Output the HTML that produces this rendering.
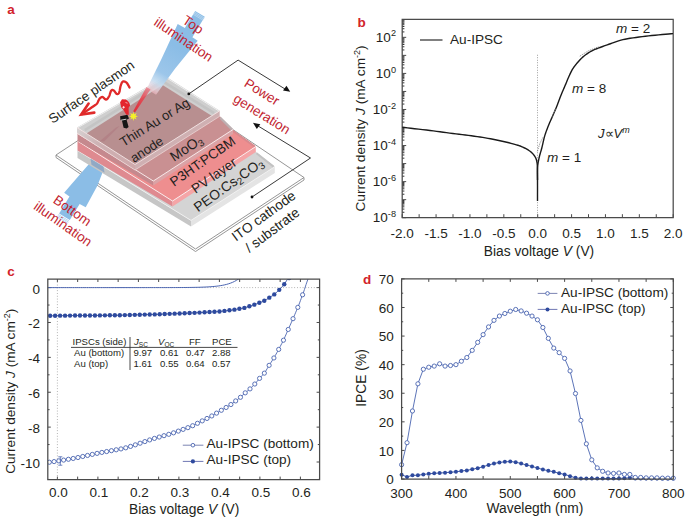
<!DOCTYPE html>
<html><head><meta charset="utf-8"><style>
html,body{margin:0;padding:0;background:#fff;}
svg{display:block;}
text{font-family:"Liberation Sans", sans-serif;}
</style></head><body>
<svg width="685" height="519" viewBox="0 0 685 519">
<rect width="685" height="519" fill="#fff"/>
<polygon points="56,155 56,157.5 195.5,251.5 304,180 304,177.5 164.5,83.5" fill="#fff" stroke="#8a8a8a" stroke-width="0.9" />
<polyline points="56,155 195.5,249 304,177.5" fill="none" stroke="#8a8a8a" stroke-width="0.9" />
<polygon points="59.14,213.46 69.49,196.59 64.16,192.85 70.57,185.29 90.52,162.34 97.03,154.61 107.68,161.14 103.82,169.33 97.49,185.39 85.71,207.25 79.62,203.98 69.79,220" fill="#8bbde6" stroke="none" stroke-width="1" />
<line x1="58.51" y1="214.48" x2="69.16" y2="221.02" stroke="#9cc6ea" stroke-width="0.7" />
<line x1="57.83" y1="215.59" x2="68.48" y2="222.13" stroke="#9cc6ea" stroke-width="0.7" />
<line x1="57.15" y1="216.7" x2="67.8" y2="223.24" stroke="#9cc6ea" stroke-width="0.7" />
<polygon points="77.5,150.5 191,220.4 191,226.6 77.5,158" fill="#c6c6c6" stroke="none" stroke-width="1" /><polygon points="191,220.4 274.8,166.7 274.8,172.9 191,226.6" fill="#e4e4e4" stroke="none" stroke-width="1" /><polygon points="77.5,150.5 173.4,87.7 255.8,151.8 274.8,166.7 191,220.4" fill="#d4d4d4" stroke="none" stroke-width="1" /><polyline points="256.5,153.2 273.5,166.6" fill="none" stroke="#c2c2c2" stroke-width="2" /><polyline points="77.5,150.5 191,220.4 274.8,166.7" fill="none" stroke="#f4f4f4" stroke-width="0.8" />
<polygon points="90.5,158.4 103.5,166.6 104.5,172.8 91.5,164.8" fill="#7f9fc4" stroke="none" stroke-width="1" opacity="0.75"/>
<polygon points="77.5,141 172.5,201 172.5,206.5 77.5,150.5" fill="#df8a90" stroke="none" stroke-width="1" /><polygon points="172.5,201 255.8,146.5 255.8,152 172.5,206.5" fill="#f5a5a7" stroke="none" stroke-width="1" /><polygon points="77.5,141 166.8,82.1 255.8,146.5 172.5,201" fill="#ee8e8f" stroke="none" stroke-width="1" /><polyline points="226,126 254.8,146.6" fill="none" stroke="#d98a8e" stroke-width="2" /><polyline points="77.5,141 172.5,201 255.8,146.5" fill="none" stroke="#fff" stroke-width="0.8" />
<polygon points="77.5,133.5 153.3,181 153.3,185.5 77.5,141" fill="#c5898e" stroke="none" stroke-width="1" /><polygon points="153.3,181 233,129.5 233,134 153.3,185.5" fill="#dba3a6" stroke="none" stroke-width="1" /><polygon points="77.5,133.5 165,78.5 219.7,116.3 233,129.5 153.3,181" fill="#c99092" stroke="none" stroke-width="1" /><polyline points="220.2,117.8 232.2,129.6" fill="none" stroke="#bdb0b2" stroke-width="2.2" /><polyline points="77.5,133.5 153.3,181 233,129.5" fill="none" stroke="#fff" stroke-width="0.8" />
<polygon points="77,127.5 135,164.5 135,170 77,133" fill="url(#auf)" stroke="none" stroke-width="1" />
<defs><linearGradient id="auf" gradientUnits="userSpaceOnUse" x1="77" y1="130" x2="135" y2="167"><stop offset="0" stop-color="#d6d2d2"/><stop offset="0.35" stop-color="#cdb2b4"/><stop offset="1" stop-color="#cfa9ab"/></linearGradient></defs>
<polygon points="135,164.5 219.7,110.8 219.7,116.3 135,170" fill="#cfb0b2" stroke="none" stroke-width="1" />
<polygon points="77,127.5 165.5,76.3 219.7,110.8 135,164.5" fill="#cfcfcf" stroke="none" stroke-width="1" />
<polygon points="86.4,133.6 162.5,85 211.6,115.7 135,164.5" fill="#b88f90" stroke="none" stroke-width="1" />
<polygon points="116,127.5 119.5,126 104,141.5 100,141" fill="#a86a76" stroke="none" stroke-width="1" opacity="0.35"/>
<polyline points="84.9,130.1 162.8,81.4 214.1,113.2" fill="none" stroke="#c4c4c4" stroke-width="2.6" />
<polyline points="77.8,127.7 165.5,77.2 218.9,111" fill="none" stroke="#efefef" stroke-width="1.0" />
<polyline points="77,127.5 135,164.5 219.7,110.8" fill="none" stroke="#f4e4e4" stroke-width="0.9" />
<polyline points="77,133 135,170 219.7,116.3" fill="none" stroke="#f0dcdc" stroke-width="0.7" />
<defs><linearGradient id="tbg" gradientUnits="userSpaceOnUse" x1="178" y1="48" x2="150" y2="94"><stop offset="0" stop-color="#8bbde6"/><stop offset="0.55" stop-color="#9cc6ea"/><stop offset="0.75" stop-color="#c4dcf0" stop-opacity="0.9"/><stop offset="0.9" stop-color="#eed0d8" stop-opacity="0.7"/><stop offset="1" stop-color="#f0a0aa" stop-opacity="0.6"/></linearGradient></defs>
<polygon points="195.21,10.9 184.87,28.02 177.69,24.04 160.85,60.25 146.62,89.04 156.03,94.72 174.97,68.78 197.71,40.8 192.39,37.24 204.79,16.7" fill="url(#tbg)" stroke="none" stroke-width="1" />
<line x1="194.43" y1="12.01" x2="204.53" y2="18.11" stroke="#cfe2f4" stroke-width="0.6" />
<line x1="193.76" y1="13.12" x2="203.86" y2="19.22" stroke="#cfe2f4" stroke-width="0.6" />
<line x1="193.09" y1="14.23" x2="203.19" y2="20.33" stroke="#cfe2f4" stroke-width="0.6" />
<defs><linearGradient id="lz" gradientUnits="userSpaceOnUse" x1="149" y1="86" x2="134" y2="113"><stop offset="0" stop-color="#f06070" stop-opacity="0.5"/><stop offset="0.4" stop-color="#e84450" stop-opacity="0.85"/><stop offset="1" stop-color="#e02a36"/></linearGradient></defs>
<polygon points="146.5,87 150.5,89.5 135,112.5 133.2,111.3" fill="url(#lz)" stroke="none" stroke-width="1" />
<polygon points="138,116.3 135.43,117.14 136.65,119.55 134.24,118.33 133.4,120.9 132.56,118.33 130.15,119.55 131.37,117.14 128.8,116.3 131.37,115.46 130.15,113.05 132.56,114.27 133.4,111.7 134.24,114.27 136.65,113.05 135.43,115.46" fill="#f4f02a" stroke="none" stroke-width="1" />
<path d="M120.1,116.2 L127.4,114.7 L129,118.5 L126.6,119.7 L128.6,127 L126.6,128.5 L123.6,127.8 L122,120.8 L120.5,120 Z" fill="#161616"/>
<path d="M121,120.2 L126.3,119.2" stroke="#e0e0e0" stroke-width="0.9"/>
<path d="M120.1,102.3 L122,99.3 L125.9,99.6 C128,101 129.5,102.5 130.1,105.4 L128.6,107.7 L128.8,114.7 L126.3,114.7 C125,112.5 124,111 123.6,110 C122.2,108.5 121,107.5 120.9,106.2 Z" fill="#e3262e"/>
<path d="M122.4,107.3 L124.8,107.3 M123.6,106.1 L123.6,108.5" stroke="#fff" stroke-width="0.8"/>
<path d="M125.5,102.5 L127.6,103.2" stroke="#fff" stroke-width="0.6"/>
<polyline points="129.5,87.5 129.18,86.92 128.75,86.09 128.23,85.11 127.66,84.13 127.08,83.25 126.5,82.6 125.91,82.15 125.26,81.78 124.6,81.52 123.95,81.39 123.34,81.41 122.8,81.6 122.34,82 121.93,82.59 121.56,83.33 121.22,84.18 120.9,85.08 120.6,86 120.33,87.02 120.11,88.2 119.91,89.43 119.71,90.63 119.48,91.68 119.2,92.5 118.86,93.1 118.5,93.56 118.1,93.88 117.68,94.06 117.25,94.1 116.8,94 116.33,93.66 115.83,93.07 115.31,92.34 114.79,91.59 114.28,90.93 113.8,90.5 113.34,90.24 112.89,90.05 112.45,89.96 112.02,90 111.61,90.21 111.2,90.6 110.82,91.28 110.47,92.24 110.12,93.36 109.78,94.53 109.41,95.61 109,96.5 108.55,97.24 108.08,97.95 107.58,98.58 107.07,99.09 106.54,99.45 106,99.6 105.44,99.45 104.85,98.99 104.25,98.38 103.65,97.75 103.06,97.24 102.5,97 101.97,97.01 101.44,97.17 100.94,97.44 100.44,97.82 99.97,98.28 99.5,98.8 99.07,99.44 98.67,100.23 98.28,101.09 97.89,101.97 97.47,102.8 97,103.5 96.57,104.01 96.2,104.36 95.81,104.66 95.3,105 94.56,105.48 93.5,106.2 91.91,107.3 89.83,108.71 87.53,110.27 85.28,111.79 83.34,113.09 82,114" fill="none" stroke="#e02a2a" stroke-width="2.3" stroke-linecap="round" stroke-linejoin="round"/>
<polyline points="88.6,103.6 81.2,114.6 94.3,112.6" fill="none" stroke="#e02a2a" stroke-width="2.6" stroke-linecap="round" stroke-linejoin="miter"/>
<polyline points="188.8,93.9 238.1,60.1 286,89.6" fill="none" stroke="#222" stroke-width="0.9" />
<polygon points="290.2,91.8 283,90.5 286.5,85.8" fill="#111" stroke="none" stroke-width="1" />
<circle cx="188.8" cy="93.9" r="1.4" fill="#111"/>
<polyline points="252,197 310.5,158 256.5,125" fill="none" stroke="#222" stroke-width="0.9" />
<polygon points="253,122.8 260.3,124.3 256.8,129" fill="#111" stroke="none" stroke-width="1" />
<circle cx="252" cy="197" r="1.4" fill="#111"/>
<text x="0" y="0" font-size="13.4" text-anchor="start" fill="#231f20" transform="translate(52.5,124) rotate(-34.3)" >Surface plasmon</text>
<text x="0" y="0" font-size="13.5" text-anchor="start" fill="#c21f32" transform="translate(181.5,22.5) rotate(34)" >Top</text>
<text x="0" y="0" font-size="13.5" text-anchor="start" fill="#c21f32" transform="translate(153,24.5) rotate(34)" >illumination</text>
<text x="0" y="0" font-size="13.5" text-anchor="start" fill="#c21f32" transform="translate(243.3,85.7) rotate(32)" >Power</text>
<text x="0" y="0" font-size="13.5" text-anchor="start" fill="#c21f32" transform="translate(232.5,101) rotate(32)" >generation</text>
<text x="0" y="0" font-size="13.2" text-anchor="start" fill="#231f20" transform="translate(123.5,147) rotate(-32)" >Thin Au or Ag</text>
<text x="0" y="0" font-size="13" text-anchor="start" fill="#231f20" transform="translate(134,163) rotate(-33)" >anode</text>
<text x="0" y="0" font-size="14" text-anchor="start" fill="#231f20" transform="translate(174,162) rotate(-33.5)" >MoO<tspan font-size="9.5" dy="2.5">3</tspan></text>
<text x="0" y="0" font-size="13.6" text-anchor="start" fill="#231f20" transform="translate(174,187) rotate(-35)" >P3HT:PCBM</text>
<text x="0" y="0" font-size="13.6" text-anchor="start" fill="#231f20" transform="translate(195.5,194) rotate(-35)" >PV layer</text>
<text x="0" y="0" font-size="13.8" text-anchor="start" fill="#231f20" transform="translate(198,212.5) rotate(-35.5)" >PEO:Cs<tspan font-size="10" dy="2.5">2</tspan><tspan dy="-2.5">CO</tspan><tspan font-size="10" dy="2.5">3</tspan></text>
<text x="0" y="0" font-size="13.7" text-anchor="start" fill="#231f20" transform="translate(236,241.8) rotate(-36)" >ITO cathode</text>
<text x="0" y="0" font-size="13.7" text-anchor="start" fill="#231f20" transform="translate(249.5,253) rotate(-37)" >/ substrate</text>
<text x="0" y="0" font-size="13.5" text-anchor="start" fill="#c21f32" transform="translate(52.3,202.1) rotate(35)" >Bottom</text>
<text x="0" y="0" font-size="13.5" text-anchor="start" fill="#c21f32" transform="translate(32.7,208.4) rotate(35)" >illumination</text>
<text x="7.2" y="14.4" font-size="13.5" text-anchor="start" fill="#d2232a" font-weight="bold" >a</text>
<text x="357.5" y="26.6" font-size="13.5" text-anchor="start" fill="#d2232a" font-weight="bold" >b</text>
<text x="7.2" y="275.5" font-size="13.5" text-anchor="start" fill="#d2232a" font-weight="bold" >c</text>
<text x="363" y="284" font-size="13.5" text-anchor="start" fill="#d2232a" font-weight="bold" >d</text>
<line x1="402.2" y1="217.7" x2="402.2" y2="214.2" stroke="#4a4a4a" stroke-width="1" />
<line x1="419.14" y1="217.7" x2="419.14" y2="214.2" stroke="#4a4a4a" stroke-width="1" />
<line x1="436.07" y1="217.7" x2="436.07" y2="214.2" stroke="#4a4a4a" stroke-width="1" />
<line x1="453.01" y1="217.7" x2="453.01" y2="214.2" stroke="#4a4a4a" stroke-width="1" />
<line x1="469.95" y1="217.7" x2="469.95" y2="214.2" stroke="#4a4a4a" stroke-width="1" />
<line x1="486.89" y1="217.7" x2="486.89" y2="214.2" stroke="#4a4a4a" stroke-width="1" />
<line x1="503.83" y1="217.7" x2="503.83" y2="214.2" stroke="#4a4a4a" stroke-width="1" />
<line x1="520.76" y1="217.7" x2="520.76" y2="214.2" stroke="#4a4a4a" stroke-width="1" />
<line x1="537.7" y1="217.7" x2="537.7" y2="214.2" stroke="#4a4a4a" stroke-width="1" />
<line x1="554.64" y1="217.7" x2="554.64" y2="214.2" stroke="#4a4a4a" stroke-width="1" />
<line x1="571.58" y1="217.7" x2="571.58" y2="214.2" stroke="#4a4a4a" stroke-width="1" />
<line x1="588.51" y1="217.7" x2="588.51" y2="214.2" stroke="#4a4a4a" stroke-width="1" />
<line x1="605.45" y1="217.7" x2="605.45" y2="214.2" stroke="#4a4a4a" stroke-width="1" />
<line x1="622.39" y1="217.7" x2="622.39" y2="214.2" stroke="#4a4a4a" stroke-width="1" />
<line x1="639.33" y1="217.7" x2="639.33" y2="214.2" stroke="#4a4a4a" stroke-width="1" />
<line x1="656.26" y1="217.7" x2="656.26" y2="214.2" stroke="#4a4a4a" stroke-width="1" />
<line x1="673.2" y1="217.7" x2="673.2" y2="214.2" stroke="#4a4a4a" stroke-width="1" />
<line x1="402.2" y1="217.7" x2="406.2" y2="217.7" stroke="#4a4a4a" stroke-width="1" />
<line x1="402.2" y1="212.27" x2="404.4" y2="212.27" stroke="#333" stroke-width="1" />
<line x1="402.2" y1="209.09" x2="404.4" y2="209.09" stroke="#333" stroke-width="1" />
<line x1="402.2" y1="206.84" x2="404.4" y2="206.84" stroke="#333" stroke-width="1" />
<line x1="402.2" y1="205.09" x2="404.4" y2="205.09" stroke="#333" stroke-width="1" />
<line x1="402.2" y1="203.66" x2="404.4" y2="203.66" stroke="#333" stroke-width="1" />
<line x1="402.2" y1="202.46" x2="404.4" y2="202.46" stroke="#333" stroke-width="1" />
<line x1="402.2" y1="201.41" x2="404.4" y2="201.41" stroke="#333" stroke-width="1" />
<line x1="402.2" y1="200.49" x2="404.4" y2="200.49" stroke="#333" stroke-width="1" />
<line x1="402.2" y1="199.66" x2="406.2" y2="199.66" stroke="#4a4a4a" stroke-width="1" />
<line x1="402.2" y1="194.23" x2="404.4" y2="194.23" stroke="#333" stroke-width="1" />
<line x1="402.2" y1="191.06" x2="404.4" y2="191.06" stroke="#333" stroke-width="1" />
<line x1="402.2" y1="188.8" x2="404.4" y2="188.8" stroke="#333" stroke-width="1" />
<line x1="402.2" y1="187.06" x2="404.4" y2="187.06" stroke="#333" stroke-width="1" />
<line x1="402.2" y1="185.63" x2="404.4" y2="185.63" stroke="#333" stroke-width="1" />
<line x1="402.2" y1="184.42" x2="404.4" y2="184.42" stroke="#333" stroke-width="1" />
<line x1="402.2" y1="183.38" x2="404.4" y2="183.38" stroke="#333" stroke-width="1" />
<line x1="402.2" y1="182.45" x2="404.4" y2="182.45" stroke="#333" stroke-width="1" />
<line x1="402.2" y1="181.63" x2="406.2" y2="181.63" stroke="#4a4a4a" stroke-width="1" />
<line x1="402.2" y1="176.2" x2="404.4" y2="176.2" stroke="#333" stroke-width="1" />
<line x1="402.2" y1="173.02" x2="404.4" y2="173.02" stroke="#333" stroke-width="1" />
<line x1="402.2" y1="170.77" x2="404.4" y2="170.77" stroke="#333" stroke-width="1" />
<line x1="402.2" y1="169.02" x2="404.4" y2="169.02" stroke="#333" stroke-width="1" />
<line x1="402.2" y1="167.59" x2="404.4" y2="167.59" stroke="#333" stroke-width="1" />
<line x1="402.2" y1="166.38" x2="404.4" y2="166.38" stroke="#333" stroke-width="1" />
<line x1="402.2" y1="165.34" x2="404.4" y2="165.34" stroke="#333" stroke-width="1" />
<line x1="402.2" y1="164.42" x2="404.4" y2="164.42" stroke="#333" stroke-width="1" />
<line x1="402.2" y1="163.59" x2="406.2" y2="163.59" stroke="#4a4a4a" stroke-width="1" />
<line x1="402.2" y1="158.16" x2="404.4" y2="158.16" stroke="#333" stroke-width="1" />
<line x1="402.2" y1="154.99" x2="404.4" y2="154.99" stroke="#333" stroke-width="1" />
<line x1="402.2" y1="152.73" x2="404.4" y2="152.73" stroke="#333" stroke-width="1" />
<line x1="402.2" y1="150.98" x2="404.4" y2="150.98" stroke="#333" stroke-width="1" />
<line x1="402.2" y1="149.56" x2="404.4" y2="149.56" stroke="#333" stroke-width="1" />
<line x1="402.2" y1="148.35" x2="404.4" y2="148.35" stroke="#333" stroke-width="1" />
<line x1="402.2" y1="147.3" x2="404.4" y2="147.3" stroke="#333" stroke-width="1" />
<line x1="402.2" y1="146.38" x2="404.4" y2="146.38" stroke="#333" stroke-width="1" />
<line x1="402.2" y1="145.55" x2="406.2" y2="145.55" stroke="#4a4a4a" stroke-width="1" />
<line x1="402.2" y1="140.13" x2="404.4" y2="140.13" stroke="#333" stroke-width="1" />
<line x1="402.2" y1="136.95" x2="404.4" y2="136.95" stroke="#333" stroke-width="1" />
<line x1="402.2" y1="134.7" x2="404.4" y2="134.7" stroke="#333" stroke-width="1" />
<line x1="402.2" y1="132.95" x2="404.4" y2="132.95" stroke="#333" stroke-width="1" />
<line x1="402.2" y1="131.52" x2="404.4" y2="131.52" stroke="#333" stroke-width="1" />
<line x1="402.2" y1="130.31" x2="404.4" y2="130.31" stroke="#333" stroke-width="1" />
<line x1="402.2" y1="129.27" x2="404.4" y2="129.27" stroke="#333" stroke-width="1" />
<line x1="402.2" y1="128.34" x2="404.4" y2="128.34" stroke="#333" stroke-width="1" />
<line x1="402.2" y1="127.52" x2="406.2" y2="127.52" stroke="#4a4a4a" stroke-width="1" />
<line x1="402.2" y1="122.09" x2="404.4" y2="122.09" stroke="#333" stroke-width="1" />
<line x1="402.2" y1="118.91" x2="404.4" y2="118.91" stroke="#333" stroke-width="1" />
<line x1="402.2" y1="116.66" x2="404.4" y2="116.66" stroke="#333" stroke-width="1" />
<line x1="402.2" y1="114.91" x2="404.4" y2="114.91" stroke="#333" stroke-width="1" />
<line x1="402.2" y1="113.48" x2="404.4" y2="113.48" stroke="#333" stroke-width="1" />
<line x1="402.2" y1="112.28" x2="404.4" y2="112.28" stroke="#333" stroke-width="1" />
<line x1="402.2" y1="111.23" x2="404.4" y2="111.23" stroke="#333" stroke-width="1" />
<line x1="402.2" y1="110.31" x2="404.4" y2="110.31" stroke="#333" stroke-width="1" />
<line x1="402.2" y1="109.48" x2="406.2" y2="109.48" stroke="#4a4a4a" stroke-width="1" />
<line x1="402.2" y1="104.05" x2="404.4" y2="104.05" stroke="#333" stroke-width="1" />
<line x1="402.2" y1="100.88" x2="404.4" y2="100.88" stroke="#333" stroke-width="1" />
<line x1="402.2" y1="98.62" x2="404.4" y2="98.62" stroke="#333" stroke-width="1" />
<line x1="402.2" y1="96.87" x2="404.4" y2="96.87" stroke="#333" stroke-width="1" />
<line x1="402.2" y1="95.45" x2="404.4" y2="95.45" stroke="#333" stroke-width="1" />
<line x1="402.2" y1="94.24" x2="404.4" y2="94.24" stroke="#333" stroke-width="1" />
<line x1="402.2" y1="93.19" x2="404.4" y2="93.19" stroke="#333" stroke-width="1" />
<line x1="402.2" y1="92.27" x2="404.4" y2="92.27" stroke="#333" stroke-width="1" />
<line x1="402.2" y1="91.45" x2="406.2" y2="91.45" stroke="#4a4a4a" stroke-width="1" />
<line x1="402.2" y1="86.02" x2="404.4" y2="86.02" stroke="#333" stroke-width="1" />
<line x1="402.2" y1="82.84" x2="404.4" y2="82.84" stroke="#333" stroke-width="1" />
<line x1="402.2" y1="80.59" x2="404.4" y2="80.59" stroke="#333" stroke-width="1" />
<line x1="402.2" y1="78.84" x2="404.4" y2="78.84" stroke="#333" stroke-width="1" />
<line x1="402.2" y1="77.41" x2="404.4" y2="77.41" stroke="#333" stroke-width="1" />
<line x1="402.2" y1="76.2" x2="404.4" y2="76.2" stroke="#333" stroke-width="1" />
<line x1="402.2" y1="75.16" x2="404.4" y2="75.16" stroke="#333" stroke-width="1" />
<line x1="402.2" y1="74.23" x2="404.4" y2="74.23" stroke="#333" stroke-width="1" />
<line x1="402.2" y1="73.41" x2="406.2" y2="73.41" stroke="#4a4a4a" stroke-width="1" />
<line x1="402.2" y1="67.98" x2="404.4" y2="67.98" stroke="#333" stroke-width="1" />
<line x1="402.2" y1="64.8" x2="404.4" y2="64.8" stroke="#333" stroke-width="1" />
<line x1="402.2" y1="62.55" x2="404.4" y2="62.55" stroke="#333" stroke-width="1" />
<line x1="402.2" y1="60.8" x2="404.4" y2="60.8" stroke="#333" stroke-width="1" />
<line x1="402.2" y1="59.37" x2="404.4" y2="59.37" stroke="#333" stroke-width="1" />
<line x1="402.2" y1="58.17" x2="404.4" y2="58.17" stroke="#333" stroke-width="1" />
<line x1="402.2" y1="57.12" x2="404.4" y2="57.12" stroke="#333" stroke-width="1" />
<line x1="402.2" y1="56.2" x2="404.4" y2="56.2" stroke="#333" stroke-width="1" />
<line x1="402.2" y1="55.37" x2="406.2" y2="55.37" stroke="#4a4a4a" stroke-width="1" />
<line x1="402.2" y1="49.94" x2="404.4" y2="49.94" stroke="#333" stroke-width="1" />
<line x1="402.2" y1="46.77" x2="404.4" y2="46.77" stroke="#333" stroke-width="1" />
<line x1="402.2" y1="44.51" x2="404.4" y2="44.51" stroke="#333" stroke-width="1" />
<line x1="402.2" y1="42.77" x2="404.4" y2="42.77" stroke="#333" stroke-width="1" />
<line x1="402.2" y1="41.34" x2="404.4" y2="41.34" stroke="#333" stroke-width="1" />
<line x1="402.2" y1="40.13" x2="404.4" y2="40.13" stroke="#333" stroke-width="1" />
<line x1="402.2" y1="39.08" x2="404.4" y2="39.08" stroke="#333" stroke-width="1" />
<line x1="402.2" y1="38.16" x2="404.4" y2="38.16" stroke="#333" stroke-width="1" />
<line x1="402.2" y1="37.34" x2="406.2" y2="37.34" stroke="#4a4a4a" stroke-width="1" />
<line x1="402.2" y1="31.91" x2="404.4" y2="31.91" stroke="#333" stroke-width="1" />
<line x1="402.2" y1="28.73" x2="404.4" y2="28.73" stroke="#333" stroke-width="1" />
<line x1="402.2" y1="26.48" x2="404.4" y2="26.48" stroke="#333" stroke-width="1" />
<line x1="402.2" y1="24.73" x2="404.4" y2="24.73" stroke="#333" stroke-width="1" />
<line x1="402.2" y1="23.3" x2="404.4" y2="23.3" stroke="#333" stroke-width="1" />
<line x1="402.2" y1="22.09" x2="404.4" y2="22.09" stroke="#333" stroke-width="1" />
<line x1="402.2" y1="21.05" x2="404.4" y2="21.05" stroke="#333" stroke-width="1" />
<line x1="402.2" y1="20.13" x2="404.4" y2="20.13" stroke="#333" stroke-width="1" />
<polygon points="402.2,19.3 673.2,19.3 673.2,217.7 402.2,217.7" fill="none" stroke="#4a4a4a" stroke-width="1.25" />
<text x="402.2" y="238" font-size="13.5" text-anchor="middle" fill="#231f20" >-2.0</text>
<text x="436.07" y="238" font-size="13.5" text-anchor="middle" fill="#231f20" >-1.5</text>
<text x="469.95" y="238" font-size="13.5" text-anchor="middle" fill="#231f20" >-1.0</text>
<text x="503.83" y="238" font-size="13.5" text-anchor="middle" fill="#231f20" >-0.5</text>
<text x="537.7" y="238" font-size="13.5" text-anchor="middle" fill="#231f20" >0.0</text>
<text x="571.58" y="238" font-size="13.5" text-anchor="middle" fill="#231f20" >0.5</text>
<text x="605.45" y="238" font-size="13.5" text-anchor="middle" fill="#231f20" >1.0</text>
<text x="639.33" y="238" font-size="13.5" text-anchor="middle" fill="#231f20" >1.5</text>
<text x="673.2" y="238" font-size="13.5" text-anchor="middle" fill="#231f20" >2.0</text>
<text x="396" y="41.94" font-size="13.5" text-anchor="end" fill="#231f20">10<tspan font-size="9.2" dy="-5.5">2</tspan></text>
<text x="396" y="78.01" font-size="13.5" text-anchor="end" fill="#231f20">10<tspan font-size="9.2" dy="-5.5">0</tspan></text>
<text x="396" y="114.08" font-size="13.5" text-anchor="end" fill="#231f20">10<tspan font-size="9.2" dy="-5.5">-2</tspan></text>
<text x="396" y="150.15" font-size="13.5" text-anchor="end" fill="#231f20">10<tspan font-size="9.2" dy="-5.5">-4</tspan></text>
<text x="396" y="186.23" font-size="13.5" text-anchor="end" fill="#231f20">10<tspan font-size="9.2" dy="-5.5">-6</tspan></text>
<text x="396" y="222.3" font-size="13.5" text-anchor="end" fill="#231f20">10<tspan font-size="9.2" dy="-5.5">-8</tspan></text>
<text x="539" y="256" font-size="13.8" text-anchor="middle" fill="#231f20" >Bias voltage <tspan font-style="italic">V</tspan> (V)</text>
<text transform="translate(365,128.5) rotate(-90)" font-size="13.7" text-anchor="middle" fill="#231f20">Current density <tspan font-style="italic">J</tspan> (mA cm<tspan font-size="9" dy="-5">-2</tspan><tspan dy="5">)</tspan></text>
<line x1="537.5" y1="54.8" x2="537.5" y2="217.7" stroke="#666" stroke-width="0.7" stroke-dasharray="0.9,1.6"/>
<polyline points="402.4,127.3 404.54,127.55 407.4,127.87 410.8,128.26 414.57,128.69 418.55,129.14 422.57,129.61 426.44,130.07 430,130.5 433.34,130.92 436.66,131.34 439.96,131.77 443.23,132.21 446.47,132.64 449.68,133.07 452.86,133.49 456,133.9 459.12,134.3 462.23,134.68 465.32,135.06 468.38,135.43 471.38,135.81 474.33,136.19 477.21,136.59 480,137 482.72,137.43 485.37,137.87 487.95,138.33 490.47,138.79 492.94,139.26 495.35,139.73 497.7,140.21 500,140.7 502.28,141.2 504.55,141.72 506.77,142.25 508.94,142.78 511.01,143.31 512.96,143.83 514.77,144.33 516.4,144.8 517.83,145.24 519.07,145.64 520.15,146.03 521.12,146.4 522.01,146.77 522.86,147.16 523.71,147.56 524.6,148 525.51,148.46 526.4,148.94 527.27,149.44 528.11,149.94 528.91,150.46 529.68,151 530.41,151.54 531.1,152.1 531.74,152.67 532.35,153.27 532.92,153.87 533.45,154.49 533.94,155.12 534.4,155.75 534.82,156.38 535.2,157 535.54,157.62 535.82,158.23 536.07,158.84 536.28,159.45 536.46,160.07 536.62,160.7 536.76,161.34 536.9,162 537.02,162.63 537.12,163.22 537.19,163.8 537.25,164.39 537.29,165.05 537.33,165.79 537.36,166.67 537.4,167.7 537.43,168.86 537.46,170.11 537.47,171.45 537.48,172.89 537.49,174.46 537.49,176.16 537.5,178 537.5,180 537.5,182.35 537.51,185.13 537.51,188.16 537.51,191.27 537.5,194.28 537.5,197.02 537.5,199.32 537.5,201" fill="none" stroke="#1a1a1a" stroke-width="1.4" />
<polyline points="537.5,180 537.5,178.98 537.48,177.59 537.46,175.95 537.44,174.12 537.44,172.23 537.46,170.34 537.51,168.57 537.6,167 537.73,165.6 537.89,164.27 538.09,162.99 538.3,161.75 538.53,160.54 538.78,159.36 539.04,158.18 539.3,157 539.57,155.85 539.86,154.76 540.16,153.7 540.47,152.65 540.79,151.58 541.12,150.47 541.46,149.28 541.8,148 542.14,146.6 542.49,145.1 542.84,143.53 543.21,141.91 543.58,140.28 543.97,138.67 544.37,137.1 544.8,135.6 545.25,134.16 545.73,132.75 546.22,131.37 546.73,130.01 547.25,128.68 547.77,127.36 548.29,126.07 548.8,124.8 549.31,123.56 549.82,122.35 550.33,121.17 550.85,120.01 551.37,118.86 551.88,117.72 552.39,116.57 552.9,115.4 553.4,114.23 553.9,113.08 554.4,111.94 554.9,110.79 555.4,109.63 555.9,108.45 556.4,107.24 556.9,106 557.41,104.71 557.92,103.37 558.43,101.99 558.95,100.6 559.47,99.21 559.98,97.83 560.49,96.49 561,95.2 561.5,93.96 562.01,92.75 562.51,91.58 563.01,90.42 563.5,89.27 564,88.12 564.5,86.97 565,85.8 565.5,84.61 566,83.4 566.5,82.18 566.99,80.96 567.49,79.76 567.99,78.57 568.5,77.42 569,76.3 569.5,75.22 569.99,74.17 570.47,73.14 570.96,72.13 571.46,71.15 571.98,70.18 572.52,69.23 573.1,68.3 573.71,67.38 574.36,66.48 575.03,65.6 575.73,64.73 576.43,63.89 577.13,63.07 577.82,62.27 578.5,61.5 579.15,60.77 579.77,60.07 580.37,59.41 580.98,58.76 581.61,58.13 582.28,57.5 583,56.86 583.8,56.2 584.68,55.52 585.63,54.81 586.63,54.09 587.67,53.38 588.74,52.68 589.81,52 590.87,51.38 591.9,50.8 592.89,50.29 593.83,49.85 594.77,49.45 595.71,49.08 596.68,48.72 597.7,48.35 598.8,47.95 600,47.5 601.31,47.01 602.7,46.49 604.17,45.95 605.69,45.39 607.26,44.83 608.84,44.28 610.43,43.73 612,43.2 613.51,42.68 614.93,42.16 616.34,41.65 617.78,41.14 619.31,40.64 620.99,40.14 622.87,39.66 625,39.2 627.43,38.75 630.11,38.3 633,37.87 636.03,37.44 639.15,37.03 642.31,36.64 645.44,36.26 648.5,35.9 651.68,35.55 655.13,35.2 658.69,34.86 662.22,34.54 665.56,34.25 668.57,33.99 671.1,33.77 673,33.6" fill="none" stroke="#1a1a1a" stroke-width="1.4" />
<polyline points="537.4,151.3 540,143 543.4,136.6" fill="none" stroke="#777" stroke-width="0.8" stroke-dasharray="1.3,1"/>
<polyline points="552.5,116.5 555.5,109" fill="none" stroke="#777" stroke-width="0.8" stroke-dasharray="1.3,1"/>
<polyline points="579.8,56.2 588,51 598.7,46.7" fill="none" stroke="#777" stroke-width="0.8" stroke-dasharray="1.3,1"/>
<line x1="420" y1="40" x2="442.5" y2="40" stroke="#2a2a2a" stroke-width="1.2" />
<text x="450" y="44" font-size="13.6" text-anchor="start" fill="#231f20" >Au-IPSC</text>
<text x="616" y="33" font-size="13.5" text-anchor="start" fill="#231f20" ><tspan font-style="italic">m</tspan> = 2</text>
<text x="572" y="92.5" font-size="13.5" text-anchor="start" fill="#231f20" ><tspan font-style="italic">m</tspan> = 8</text>
<text x="547" y="162" font-size="13.5" text-anchor="start" fill="#231f20" ><tspan font-style="italic">m</tspan> = 1</text>
<text x="598" y="138" font-size="13" text-anchor="start" fill="#231f20" ><tspan font-style="italic">J</tspan>&#8733;<tspan font-style="italic">V<tspan font-size="9" dy="-5">m</tspan></tspan></text>
<line x1="57.4" y1="479.6" x2="57.4" y2="476.6" stroke="#4a4a4a" stroke-width="1" />
<line x1="57.4" y1="279" x2="57.4" y2="282" stroke="#4a4a4a" stroke-width="1" />
<line x1="77.65" y1="479.6" x2="77.65" y2="476.6" stroke="#4a4a4a" stroke-width="1" />
<line x1="77.65" y1="279" x2="77.65" y2="282" stroke="#4a4a4a" stroke-width="1" />
<line x1="97.9" y1="479.6" x2="97.9" y2="476.6" stroke="#4a4a4a" stroke-width="1" />
<line x1="97.9" y1="279" x2="97.9" y2="282" stroke="#4a4a4a" stroke-width="1" />
<line x1="118.15" y1="479.6" x2="118.15" y2="476.6" stroke="#4a4a4a" stroke-width="1" />
<line x1="118.15" y1="279" x2="118.15" y2="282" stroke="#4a4a4a" stroke-width="1" />
<line x1="138.4" y1="479.6" x2="138.4" y2="476.6" stroke="#4a4a4a" stroke-width="1" />
<line x1="138.4" y1="279" x2="138.4" y2="282" stroke="#4a4a4a" stroke-width="1" />
<line x1="158.65" y1="479.6" x2="158.65" y2="476.6" stroke="#4a4a4a" stroke-width="1" />
<line x1="158.65" y1="279" x2="158.65" y2="282" stroke="#4a4a4a" stroke-width="1" />
<line x1="178.9" y1="479.6" x2="178.9" y2="476.6" stroke="#4a4a4a" stroke-width="1" />
<line x1="178.9" y1="279" x2="178.9" y2="282" stroke="#4a4a4a" stroke-width="1" />
<line x1="199.15" y1="479.6" x2="199.15" y2="476.6" stroke="#4a4a4a" stroke-width="1" />
<line x1="199.15" y1="279" x2="199.15" y2="282" stroke="#4a4a4a" stroke-width="1" />
<line x1="219.4" y1="479.6" x2="219.4" y2="476.6" stroke="#4a4a4a" stroke-width="1" />
<line x1="219.4" y1="279" x2="219.4" y2="282" stroke="#4a4a4a" stroke-width="1" />
<line x1="239.65" y1="479.6" x2="239.65" y2="476.6" stroke="#4a4a4a" stroke-width="1" />
<line x1="239.65" y1="279" x2="239.65" y2="282" stroke="#4a4a4a" stroke-width="1" />
<line x1="259.9" y1="479.6" x2="259.9" y2="476.6" stroke="#4a4a4a" stroke-width="1" />
<line x1="259.9" y1="279" x2="259.9" y2="282" stroke="#4a4a4a" stroke-width="1" />
<line x1="280.15" y1="479.6" x2="280.15" y2="476.6" stroke="#4a4a4a" stroke-width="1" />
<line x1="280.15" y1="279" x2="280.15" y2="282" stroke="#4a4a4a" stroke-width="1" />
<line x1="300.4" y1="479.6" x2="300.4" y2="476.6" stroke="#4a4a4a" stroke-width="1" />
<line x1="300.4" y1="279" x2="300.4" y2="282" stroke="#4a4a4a" stroke-width="1" />
<line x1="47.8" y1="479.44" x2="49.6" y2="479.44" stroke="#4a4a4a" stroke-width="1" />
<line x1="319.6" y1="479.44" x2="317.8" y2="479.44" stroke="#4a4a4a" stroke-width="1" />
<line x1="47.8" y1="462" x2="50.8" y2="462" stroke="#4a4a4a" stroke-width="1" />
<line x1="319.6" y1="462" x2="316.6" y2="462" stroke="#4a4a4a" stroke-width="1" />
<line x1="47.8" y1="444.56" x2="49.6" y2="444.56" stroke="#4a4a4a" stroke-width="1" />
<line x1="319.6" y1="444.56" x2="317.8" y2="444.56" stroke="#4a4a4a" stroke-width="1" />
<line x1="47.8" y1="427.12" x2="50.8" y2="427.12" stroke="#4a4a4a" stroke-width="1" />
<line x1="319.6" y1="427.12" x2="316.6" y2="427.12" stroke="#4a4a4a" stroke-width="1" />
<line x1="47.8" y1="409.68" x2="49.6" y2="409.68" stroke="#4a4a4a" stroke-width="1" />
<line x1="319.6" y1="409.68" x2="317.8" y2="409.68" stroke="#4a4a4a" stroke-width="1" />
<line x1="47.8" y1="392.24" x2="50.8" y2="392.24" stroke="#4a4a4a" stroke-width="1" />
<line x1="319.6" y1="392.24" x2="316.6" y2="392.24" stroke="#4a4a4a" stroke-width="1" />
<line x1="47.8" y1="374.8" x2="49.6" y2="374.8" stroke="#4a4a4a" stroke-width="1" />
<line x1="319.6" y1="374.8" x2="317.8" y2="374.8" stroke="#4a4a4a" stroke-width="1" />
<line x1="47.8" y1="357.36" x2="50.8" y2="357.36" stroke="#4a4a4a" stroke-width="1" />
<line x1="319.6" y1="357.36" x2="316.6" y2="357.36" stroke="#4a4a4a" stroke-width="1" />
<line x1="47.8" y1="339.92" x2="49.6" y2="339.92" stroke="#4a4a4a" stroke-width="1" />
<line x1="319.6" y1="339.92" x2="317.8" y2="339.92" stroke="#4a4a4a" stroke-width="1" />
<line x1="47.8" y1="322.48" x2="50.8" y2="322.48" stroke="#4a4a4a" stroke-width="1" />
<line x1="319.6" y1="322.48" x2="316.6" y2="322.48" stroke="#4a4a4a" stroke-width="1" />
<line x1="47.8" y1="305.04" x2="49.6" y2="305.04" stroke="#4a4a4a" stroke-width="1" />
<line x1="319.6" y1="305.04" x2="317.8" y2="305.04" stroke="#4a4a4a" stroke-width="1" />
<line x1="47.8" y1="287.6" x2="50.8" y2="287.6" stroke="#4a4a4a" stroke-width="1" />
<line x1="319.6" y1="287.6" x2="316.6" y2="287.6" stroke="#4a4a4a" stroke-width="1" />
<text x="58.3" y="496.6" font-size="13.5" text-anchor="middle" fill="#231f20" >0.0</text>
<text x="98.8" y="496.6" font-size="13.5" text-anchor="middle" fill="#231f20" >0.1</text>
<text x="139.3" y="496.6" font-size="13.5" text-anchor="middle" fill="#231f20" >0.2</text>
<text x="179.8" y="496.6" font-size="13.5" text-anchor="middle" fill="#231f20" >0.3</text>
<text x="220.3" y="496.6" font-size="13.5" text-anchor="middle" fill="#231f20" >0.4</text>
<text x="260.8" y="496.6" font-size="13.5" text-anchor="middle" fill="#231f20" >0.5</text>
<text x="301.3" y="496.6" font-size="13.5" text-anchor="middle" fill="#231f20" >0.6</text>
<text x="40" y="293.6" font-size="13.5" text-anchor="end" fill="#231f20" >0</text>
<text x="40" y="328.48" font-size="13.5" text-anchor="end" fill="#231f20" >-2</text>
<text x="40" y="363.36" font-size="13.5" text-anchor="end" fill="#231f20" >-4</text>
<text x="40" y="398.24" font-size="13.5" text-anchor="end" fill="#231f20" >-6</text>
<text x="40" y="433.12" font-size="13.5" text-anchor="end" fill="#231f20" >-8</text>
<text x="40" y="468" font-size="13.5" text-anchor="end" fill="#231f20" >-10</text>
<text x="184.2" y="514.4" font-size="13.8" text-anchor="middle" fill="#231f20" >Bias voltage <tspan font-style="italic">V</tspan> (V)</text>
<text transform="translate(15,391.3) rotate(-90)" font-size="13.6" text-anchor="middle" fill="#231f20">Current density <tspan font-style="italic">J</tspan> (mA cm<tspan font-size="9" dy="-5">-2</tspan><tspan dy="5">)</tspan></text>
<line x1="57.4" y1="279" x2="57.4" y2="479.6" stroke="#808080" stroke-width="0.65" stroke-dasharray="0.9,1.9"/>
<line x1="47.8" y1="287.6" x2="319.6" y2="287.6" stroke="#808080" stroke-width="0.65" stroke-dasharray="0.9,1.9"/>
<clipPath id="cc"><rect x="47.8" y="279.0" width="271.8" height="200.60000000000002"/></clipPath>
<g clip-path="url(#cc)">
<polyline points="48.09,287.6 50.11,287.6 52.13,287.6 54.16,287.6 56.19,287.6 58.21,287.6 60.23,287.6 62.26,287.6 64.28,287.6 66.31,287.6 68.34,287.6 70.36,287.6 72.39,287.6 74.41,287.6 76.44,287.6 78.46,287.6 80.48,287.6 82.51,287.6 84.53,287.6 86.56,287.6 88.58,287.6 90.61,287.6 92.64,287.6 94.66,287.6 96.69,287.6 98.71,287.6 100.74,287.6 102.76,287.6 104.79,287.6 106.81,287.6 108.84,287.6 110.86,287.6 112.89,287.6 114.91,287.6 116.94,287.6 118.96,287.6 120.99,287.6 123.01,287.6 125.04,287.6 127.06,287.6 129.09,287.6 131.11,287.6 133.14,287.6 135.16,287.6 137.19,287.6 139.21,287.6 141.24,287.6 143.26,287.6 145.29,287.6 147.31,287.6 149.34,287.59 151.36,287.59 153.39,287.59 155.41,287.59 157.44,287.59 159.46,287.59 161.49,287.58 163.51,287.58 165.54,287.58 167.56,287.57 169.59,287.57 171.61,287.57 173.64,287.56 175.66,287.55 177.69,287.54 179.71,287.53 181.74,287.52 183.76,287.51 185.79,287.49 187.81,287.47 189.84,287.44 191.86,287.42 193.89,287.38 195.91,287.34 197.94,287.3 199.96,287.24 201.99,287.17 204.01,287.1 206.04,287.01 208.06,286.9 210.09,286.77 212.11,286.62 214.14,286.44 216.16,286.23 218.19,285.99 220.21,285.69 222.24,285.35 224.26,284.94 226.29,284.46 228.31,283.89 230.34,283.21 232.36,282.42 234.39,281.48 236.41,280.37 238.44,279.05 240.46,277.5 242.49,275.67 244.51,273.51 246.54,270.96" fill="none" stroke="#4a64b0" stroke-width="1" />
<polyline points="48.49,462.35 49.3,462.24 50.11,462.13 50.92,462.02 51.73,461.9 52.54,461.79 53.35,461.68 54.16,461.57 54.97,461.46 55.78,461.35 56.59,461.24 57.4,461.13 58.21,460.99 59.02,460.86 59.83,460.72 60.64,460.58 61.45,460.45 62.26,460.31 63.07,460.17 63.88,460.04 64.69,459.9 65.5,459.76 66.31,459.63 67.12,459.49 67.93,459.36 68.74,459.22 69.55,459.08 70.36,458.95 71.17,458.81 71.98,458.67 72.79,458.54 73.6,458.4 74.41,458.27 75.22,458.12 76.03,457.94 76.84,457.77 77.65,457.59 78.46,457.42 79.27,457.24 80.08,457.06 80.89,456.89 81.7,456.71 82.51,456.54 83.32,456.36 84.13,456.18 84.94,456.01 85.75,455.83 86.56,455.66 87.37,455.48 88.18,455.31 88.99,455.13 89.8,454.95 90.61,454.78 91.42,454.6 92.23,454.43 93.04,454.25 93.85,454.07 94.66,453.9 95.47,453.72 96.28,453.55 97.09,453.37 97.9,453.19 98.71,453.02 99.52,452.86 100.33,452.71 101.14,452.56 101.95,452.41 102.76,452.26 103.57,452.11 104.38,451.96 105.19,451.82 106,451.67 106.81,451.52 107.62,451.37 108.43,451.22 109.24,451.07 110.05,450.92 110.86,450.78 111.67,450.63 112.48,450.48 113.29,450.33 114.1,450.18 114.91,450.03 115.72,449.88 116.53,449.73 117.34,449.59 118.15,449.44 118.96,449.29 119.77,449.14 120.58,448.99 121.39,448.84 122.2,448.69 123.01,448.55 123.82,448.4 124.63,448.16 125.44,447.91 126.25,447.67 127.06,447.43 127.87,447.19 128.68,446.95 129.49,446.71 130.3,446.47 131.11,446.23 131.92,445.99 132.73,445.74 133.54,445.46 134.35,445.18 135.16,444.9 135.97,444.63 136.78,444.35 137.59,444.07 138.4,443.79 139.21,443.51 140.02,443.24 140.83,442.96 141.64,442.68 142.45,442.4 143.26,442.12 144.07,441.84 144.88,441.57 145.69,441.29 146.5,441.01 147.31,440.73 148.12,440.45 148.93,440.18 149.74,439.9 150.55,439.62 151.36,439.34 152.17,439.06 152.98,438.82 153.79,438.59 154.6,438.36 155.41,438.13 156.22,437.9 157.03,437.66 157.84,437.43 158.65,437.2 159.46,436.97 160.27,436.74 161.08,436.51 161.89,436.28 162.7,436.05 163.51,435.82 164.32,435.59 165.13,435.36 165.94,435.13 166.75,434.9 167.56,434.67 168.37,434.44 169.18,434.21 169.99,433.97 170.8,433.74 171.61,433.51 172.42,433.25 173.23,432.96 174.04,432.67 174.85,432.37 175.66,432.08 176.47,431.79 177.28,431.49 178.09,431.2 178.9,430.91 179.71,430.61 180.52,430.32 181.33,430.03 182.14,429.73 182.95,429.44 183.76,429.15 184.57,428.86 185.38,428.56 186.19,428.27 187,427.98 187.81,427.68 188.62,427.39 189.43,427.1 190.24,426.8 191.05,426.51 191.86,426.13 192.67,425.72 193.48,425.31 194.29,424.9 195.1,424.49 195.91,424.08 196.72,423.67 197.53,423.26 198.34,422.85 199.15,422.44 199.96,422.03 200.77,421.62 201.58,421.21 202.39,420.79 203.2,420.38 204.01,419.97 204.82,419.56 205.63,419.15 206.44,418.74 207.25,418.33 208.06,417.92 208.87,417.51 209.68,417.1 210.49,416.69 211.3,416.24 212.11,415.76 212.92,415.28 213.73,414.8 214.54,414.32 215.35,413.84 216.16,413.36 216.97,412.88 217.78,412.41 218.59,411.93 219.4,411.45 220.21,410.97 221.02,410.49 221.83,410.01 222.64,409.53 223.45,409.05 224.26,408.57 225.07,408.09 225.88,407.61 226.69,407.13 227.5,406.65 228.31,406.17 229.12,405.69 229.93,405.21 230.74,404.66 231.55,404.05 232.36,403.44 233.17,402.82 233.98,402.21 234.79,401.59 235.6,400.98 236.41,400.37 237.22,399.75 238.03,399.14 238.84,398.53 239.65,397.91 240.46,397.3 241.27,396.54 242.08,395.78 242.89,395.01 243.7,394.25 244.51,393.49 245.32,392.78 246.13,392.11 246.94,391.44 247.75,390.76 248.56,390.09 249.37,389.42 250.18,388.75 250.99,387.93 251.8,387.1 252.61,386.28 253.42,385.45 254.23,384.63 255.04,383.74 255.85,382.78 256.66,381.82 257.47,380.86 258.28,379.9 259.09,378.94 259.9,378.02 260.71,377.13 261.52,376.25 262.33,375.36 263.14,374.48 263.95,373.59 264.76,372.71 265.57,371.34 266.38,369.98 267.19,368.62 268,367.25 268.81,365.89 269.62,364.58 270.43,363.33 271.24,362.08 272.05,360.83 272.86,359.58 273.67,358.33 274.48,356.98 275.29,355.53 276.1,354.08 276.91,352.62 277.72,351.17 278.53,349.72 279.34,348.2 280.15,346.63 280.96,345.06 281.77,343.5 282.58,341.93 283.39,340.36 284.2,338.65 285.01,336.81 285.82,334.97 286.63,333.13 287.44,331.3 288.25,329.46 289.06,327.63 289.87,325.81 290.68,323.98 291.49,322.16 292.3,320.33 293.11,318.51 293.92,316.63 294.73,314.7 295.54,312.77 296.35,310.84 297.16,308.9 297.97,306.97 298.78,305.04 299.59,302.86 300.4,300.68 301.21,298.5 302.02,296.32 302.83,294.14 303.64,291.96 304.45,289.47 305.26,286.98 306.07,284.49 306.88,282.12 307.69,279.88 308.5,277.63" fill="none" stroke="#4a64b0" stroke-width="0.9" />
<polyline points="48.49,315.85 49.3,315.84 50.11,315.82 50.92,315.81 51.73,315.79 52.54,315.77 53.35,315.76 54.16,315.74 54.97,315.73 55.78,315.71 56.59,315.69 57.4,315.68 58.21,315.67 59.02,315.67 59.83,315.66 60.64,315.66 61.45,315.65 62.26,315.65 63.07,315.64 63.88,315.64 64.69,315.63 65.5,315.63 66.31,315.62 67.12,315.62 67.93,315.61 68.74,315.61 69.55,315.6 70.36,315.59 71.17,315.59 71.98,315.58 72.79,315.58 73.6,315.57 74.41,315.57 75.22,315.56 76.03,315.56 76.84,315.55 77.65,315.55 78.46,315.54 79.27,315.54 80.08,315.53 80.89,315.53 81.7,315.52 82.51,315.52 83.32,315.51 84.13,315.51 84.94,315.5 85.75,315.5 86.56,315.49 87.37,315.48 88.18,315.48 88.99,315.47 89.8,315.47 90.61,315.46 91.42,315.46 92.23,315.45 93.04,315.45 93.85,315.44 94.66,315.44 95.47,315.43 96.28,315.43 97.09,315.42 97.9,315.42 98.71,315.41 99.52,315.4 100.33,315.39 101.14,315.38 101.95,315.37 102.76,315.37 103.57,315.36 104.38,315.35 105.19,315.34 106,315.33 106.81,315.32 107.62,315.31 108.43,315.31 109.24,315.3 110.05,315.29 110.86,315.28 111.67,315.27 112.48,315.26 113.29,315.25 114.1,315.25 114.91,315.24 115.72,315.23 116.53,315.22 117.34,315.21 118.15,315.2 118.96,315.19 119.77,315.19 120.58,315.18 121.39,315.17 122.2,315.16 123.01,315.15 123.82,315.13 124.63,315.11 125.44,315.09 126.25,315.07 127.06,315.05 127.87,315.03 128.68,315.01 129.49,314.99 130.3,314.97 131.11,314.95 131.92,314.93 132.73,314.91 133.54,314.89 134.35,314.87 135.16,314.85 135.97,314.83 136.78,314.81 137.59,314.79 138.4,314.77 139.21,314.75 140.02,314.73 140.83,314.71 141.64,314.69 142.45,314.68 143.26,314.66 144.07,314.64 144.88,314.62 145.69,314.6 146.5,314.58 147.31,314.56 148.12,314.54 148.93,314.52 149.74,314.5 150.55,314.48 151.36,314.46 152.17,314.44 152.98,314.42 153.79,314.4 154.6,314.38 155.41,314.36 156.22,314.34 157.03,314.32 157.84,314.3 158.65,314.28 159.46,314.25 160.27,314.22 161.08,314.19 161.89,314.16 162.7,314.12 163.51,314.09 164.32,314.06 165.13,314.03 165.94,314 166.75,313.97 167.56,313.93 168.37,313.9 169.18,313.87 169.99,313.84 170.8,313.81 171.61,313.78 172.42,313.74 173.23,313.71 174.04,313.68 174.85,313.65 175.66,313.62 176.47,313.59 177.28,313.55 178.09,313.52 178.9,313.49 179.71,313.46 180.52,313.43 181.33,313.4 182.14,313.36 182.95,313.33 183.76,313.3 184.57,313.27 185.38,313.24 186.19,313.21 187,313.17 187.81,313.14 188.62,313.11 189.43,313.08 190.24,313.05 191.05,313.01 191.86,312.98 192.67,312.95 193.48,312.92 194.29,312.89 195.1,312.84 195.91,312.8 196.72,312.75 197.53,312.71 198.34,312.66 199.15,312.62 199.96,312.57 200.77,312.53 201.58,312.48 202.39,312.44 203.2,312.39 204.01,312.35 204.82,312.3 205.63,312.26 206.44,312.21 207.25,312.17 208.06,312.12 208.87,312.08 209.68,312.03 210.49,311.99 211.3,311.94 212.11,311.9 212.92,311.85 213.73,311.81 214.54,311.76 215.35,311.72 216.16,311.67 216.97,311.63 217.78,311.58 218.59,311.54 219.4,311.49 220.21,311.4 221.02,311.3 221.83,311.2 222.64,311.11 223.45,311.01 224.26,310.91 225.07,310.81 225.88,310.72 226.69,310.62 227.5,310.52 228.31,310.43 229.12,310.33 229.93,310.23 230.74,310.14 231.55,310.04 232.36,309.94 233.17,309.85 233.98,309.75 234.79,309.61 235.6,309.47 236.41,309.33 237.22,309.19 238.03,309.05 238.84,308.91 239.65,308.77 240.46,308.63 241.27,308.49 242.08,308.35 242.89,308.21 243.7,308.07 244.51,307.87 245.32,307.61 246.13,307.35 246.94,307.09 247.75,306.83 248.56,306.57 249.37,306.3 250.18,306.04 250.99,305.78 251.8,305.52 252.61,305.26 253.42,305 254.23,304.71 255.04,304.41 255.85,304.1 256.66,303.79 257.47,303.48 258.28,303.18 259.09,302.87 259.9,302.56 260.71,302.26 261.52,301.95 262.33,301.64 263.14,301.34 263.95,301.03 264.76,300.52 265.57,300.01 266.38,299.5 267.19,298.99 268,298.49 268.81,297.98 269.62,297.47 270.43,296.96 271.24,296.45 272.05,295.94 272.86,295.43 273.67,294.92 274.48,294.2 275.29,293.48 276.1,292.75 276.91,292.03 277.72,291.3 278.53,290.58 279.34,289.78 280.15,288.91 280.96,288.04 281.77,287.16 282.58,286.29 283.39,285.42 284.2,284.35 285.01,283.08 285.82,281.81 286.63,280.54 287.44,279.28 288.25,278.01" fill="none" stroke="#2e4a9e" stroke-width="0.9" />
<circle cx="49.3" cy="462.24" r="2.1" fill="#fff" stroke="#4a64b0" stroke-width="0.9"/>
<circle cx="54.08" cy="461.58" r="2.1" fill="#fff" stroke="#4a64b0" stroke-width="0.9"/>
<circle cx="58.86" cy="460.88" r="2.1" fill="#fff" stroke="#4a64b0" stroke-width="0.9"/>
<circle cx="63.64" cy="460.08" r="2.1" fill="#fff" stroke="#4a64b0" stroke-width="0.9"/>
<circle cx="68.42" cy="459.27" r="2.1" fill="#fff" stroke="#4a64b0" stroke-width="0.9"/>
<circle cx="73.19" cy="458.47" r="2.1" fill="#fff" stroke="#4a64b0" stroke-width="0.9"/>
<circle cx="77.97" cy="457.52" r="2.1" fill="#fff" stroke="#4a64b0" stroke-width="0.9"/>
<circle cx="82.75" cy="456.48" r="2.1" fill="#fff" stroke="#4a64b0" stroke-width="0.9"/>
<circle cx="87.53" cy="455.45" r="2.1" fill="#fff" stroke="#4a64b0" stroke-width="0.9"/>
<circle cx="92.31" cy="454.41" r="2.1" fill="#fff" stroke="#4a64b0" stroke-width="0.9"/>
<circle cx="97.09" cy="453.37" r="2.1" fill="#fff" stroke="#4a64b0" stroke-width="0.9"/>
<circle cx="101.87" cy="452.43" r="2.1" fill="#fff" stroke="#4a64b0" stroke-width="0.9"/>
<circle cx="106.65" cy="451.55" r="2.1" fill="#fff" stroke="#4a64b0" stroke-width="0.9"/>
<circle cx="111.43" cy="450.67" r="2.1" fill="#fff" stroke="#4a64b0" stroke-width="0.9"/>
<circle cx="116.21" cy="449.79" r="2.1" fill="#fff" stroke="#4a64b0" stroke-width="0.9"/>
<circle cx="120.99" cy="448.92" r="2.1" fill="#fff" stroke="#4a64b0" stroke-width="0.9"/>
<circle cx="125.76" cy="447.82" r="2.1" fill="#fff" stroke="#4a64b0" stroke-width="0.9"/>
<circle cx="130.54" cy="446.4" r="2.1" fill="#fff" stroke="#4a64b0" stroke-width="0.9"/>
<circle cx="135.32" cy="444.85" r="2.1" fill="#fff" stroke="#4a64b0" stroke-width="0.9"/>
<circle cx="140.1" cy="443.21" r="2.1" fill="#fff" stroke="#4a64b0" stroke-width="0.9"/>
<circle cx="144.88" cy="441.57" r="2.1" fill="#fff" stroke="#4a64b0" stroke-width="0.9"/>
<circle cx="149.66" cy="439.93" r="2.1" fill="#fff" stroke="#4a64b0" stroke-width="0.9"/>
<circle cx="154.44" cy="438.4" r="2.1" fill="#fff" stroke="#4a64b0" stroke-width="0.9"/>
<circle cx="159.22" cy="437.04" r="2.1" fill="#fff" stroke="#4a64b0" stroke-width="0.9"/>
<circle cx="164" cy="435.68" r="2.1" fill="#fff" stroke="#4a64b0" stroke-width="0.9"/>
<circle cx="168.78" cy="434.32" r="2.1" fill="#fff" stroke="#4a64b0" stroke-width="0.9"/>
<circle cx="173.55" cy="432.84" r="2.1" fill="#fff" stroke="#4a64b0" stroke-width="0.9"/>
<circle cx="178.33" cy="431.11" r="2.1" fill="#fff" stroke="#4a64b0" stroke-width="0.9"/>
<circle cx="183.11" cy="429.38" r="2.1" fill="#fff" stroke="#4a64b0" stroke-width="0.9"/>
<circle cx="187.89" cy="427.65" r="2.1" fill="#fff" stroke="#4a64b0" stroke-width="0.9"/>
<circle cx="192.67" cy="425.72" r="2.1" fill="#fff" stroke="#4a64b0" stroke-width="0.9"/>
<circle cx="197.45" cy="423.3" r="2.1" fill="#fff" stroke="#4a64b0" stroke-width="0.9"/>
<circle cx="202.23" cy="420.88" r="2.1" fill="#fff" stroke="#4a64b0" stroke-width="0.9"/>
<circle cx="207.01" cy="418.45" r="2.1" fill="#fff" stroke="#4a64b0" stroke-width="0.9"/>
<circle cx="211.79" cy="415.95" r="2.1" fill="#fff" stroke="#4a64b0" stroke-width="0.9"/>
<circle cx="216.56" cy="413.12" r="2.1" fill="#fff" stroke="#4a64b0" stroke-width="0.9"/>
<circle cx="221.34" cy="410.29" r="2.1" fill="#fff" stroke="#4a64b0" stroke-width="0.9"/>
<circle cx="226.12" cy="407.47" r="2.1" fill="#fff" stroke="#4a64b0" stroke-width="0.9"/>
<circle cx="230.9" cy="404.54" r="2.1" fill="#fff" stroke="#4a64b0" stroke-width="0.9"/>
<circle cx="235.68" cy="400.92" r="2.1" fill="#fff" stroke="#4a64b0" stroke-width="0.9"/>
<circle cx="240.46" cy="397.3" r="2.1" fill="#fff" stroke="#4a64b0" stroke-width="0.9"/>
<circle cx="245.24" cy="392.84" r="2.1" fill="#fff" stroke="#4a64b0" stroke-width="0.9"/>
<circle cx="250.02" cy="388.89" r="2.1" fill="#fff" stroke="#4a64b0" stroke-width="0.9"/>
<circle cx="254.8" cy="384.03" r="2.1" fill="#fff" stroke="#4a64b0" stroke-width="0.9"/>
<circle cx="259.58" cy="378.37" r="2.1" fill="#fff" stroke="#4a64b0" stroke-width="0.9"/>
<circle cx="264.35" cy="373.15" r="2.1" fill="#fff" stroke="#4a64b0" stroke-width="0.9"/>
<circle cx="269.13" cy="365.34" r="2.1" fill="#fff" stroke="#4a64b0" stroke-width="0.9"/>
<circle cx="273.91" cy="357.96" r="2.1" fill="#fff" stroke="#4a64b0" stroke-width="0.9"/>
<circle cx="278.69" cy="349.42" r="2.1" fill="#fff" stroke="#4a64b0" stroke-width="0.9"/>
<circle cx="283.47" cy="340.2" r="2.1" fill="#fff" stroke="#4a64b0" stroke-width="0.9"/>
<circle cx="288.25" cy="329.46" r="2.1" fill="#fff" stroke="#4a64b0" stroke-width="0.9"/>
<circle cx="293.03" cy="318.69" r="2.1" fill="#fff" stroke="#4a64b0" stroke-width="0.9"/>
<circle cx="297.81" cy="307.36" r="2.1" fill="#fff" stroke="#4a64b0" stroke-width="0.9"/>
<circle cx="302.59" cy="294.79" r="2.1" fill="#fff" stroke="#4a64b0" stroke-width="0.9"/>
<circle cx="50.11" cy="315.82" r="2.2" fill="#2e4a9e"/>
<circle cx="55.09" cy="315.72" r="2.2" fill="#2e4a9e"/>
<circle cx="60.07" cy="315.66" r="2.2" fill="#2e4a9e"/>
<circle cx="65.05" cy="315.63" r="2.2" fill="#2e4a9e"/>
<circle cx="70.04" cy="315.6" r="2.2" fill="#2e4a9e"/>
<circle cx="75.02" cy="315.56" r="2.2" fill="#2e4a9e"/>
<circle cx="80" cy="315.53" r="2.2" fill="#2e4a9e"/>
<circle cx="84.98" cy="315.5" r="2.2" fill="#2e4a9e"/>
<circle cx="89.96" cy="315.47" r="2.2" fill="#2e4a9e"/>
<circle cx="94.94" cy="315.44" r="2.2" fill="#2e4a9e"/>
<circle cx="99.93" cy="315.4" r="2.2" fill="#2e4a9e"/>
<circle cx="104.91" cy="315.34" r="2.2" fill="#2e4a9e"/>
<circle cx="109.89" cy="315.29" r="2.2" fill="#2e4a9e"/>
<circle cx="114.87" cy="315.24" r="2.2" fill="#2e4a9e"/>
<circle cx="119.85" cy="315.18" r="2.2" fill="#2e4a9e"/>
<circle cx="124.83" cy="315.1" r="2.2" fill="#2e4a9e"/>
<circle cx="129.81" cy="314.98" r="2.2" fill="#2e4a9e"/>
<circle cx="134.8" cy="314.86" r="2.2" fill="#2e4a9e"/>
<circle cx="139.78" cy="314.74" r="2.2" fill="#2e4a9e"/>
<circle cx="144.76" cy="314.62" r="2.2" fill="#2e4a9e"/>
<circle cx="149.74" cy="314.5" r="2.2" fill="#2e4a9e"/>
<circle cx="154.72" cy="314.38" r="2.2" fill="#2e4a9e"/>
<circle cx="159.7" cy="314.24" r="2.2" fill="#2e4a9e"/>
<circle cx="164.68" cy="314.05" r="2.2" fill="#2e4a9e"/>
<circle cx="169.67" cy="313.85" r="2.2" fill="#2e4a9e"/>
<circle cx="174.65" cy="313.66" r="2.2" fill="#2e4a9e"/>
<circle cx="179.63" cy="313.46" r="2.2" fill="#2e4a9e"/>
<circle cx="184.61" cy="313.27" r="2.2" fill="#2e4a9e"/>
<circle cx="189.59" cy="313.07" r="2.2" fill="#2e4a9e"/>
<circle cx="194.57" cy="312.87" r="2.2" fill="#2e4a9e"/>
<circle cx="199.55" cy="312.6" r="2.2" fill="#2e4a9e"/>
<circle cx="204.54" cy="312.32" r="2.2" fill="#2e4a9e"/>
<circle cx="209.52" cy="312.04" r="2.2" fill="#2e4a9e"/>
<circle cx="214.5" cy="311.77" r="2.2" fill="#2e4a9e"/>
<circle cx="219.48" cy="311.48" r="2.2" fill="#2e4a9e"/>
<circle cx="224.46" cy="310.89" r="2.2" fill="#2e4a9e"/>
<circle cx="229.44" cy="310.29" r="2.2" fill="#2e4a9e"/>
<circle cx="234.43" cy="309.67" r="2.2" fill="#2e4a9e"/>
<circle cx="239.41" cy="308.81" r="2.2" fill="#2e4a9e"/>
<circle cx="244.39" cy="307.91" r="2.2" fill="#2e4a9e"/>
<circle cx="249.37" cy="306.3" r="2.2" fill="#2e4a9e"/>
<circle cx="254.35" cy="304.67" r="2.2" fill="#2e4a9e"/>
<circle cx="259.33" cy="302.78" r="2.2" fill="#2e4a9e"/>
<circle cx="264.31" cy="300.8" r="2.2" fill="#2e4a9e"/>
<circle cx="269.3" cy="297.67" r="2.2" fill="#2e4a9e"/>
<circle cx="274.28" cy="294.38" r="2.2" fill="#2e4a9e"/>
<circle cx="279.26" cy="289.87" r="2.2" fill="#2e4a9e"/>
<circle cx="284.24" cy="284.29" r="2.2" fill="#2e4a9e"/>
<circle cx="289.22" cy="278.01" r="2.2" fill="#2e4a9e"/>
</g>
<line x1="60.3" y1="456.8" x2="60.3" y2="465.2" stroke="#4a64b0" stroke-width="0.8" />
<line x1="58.3" y1="456.8" x2="62.3" y2="456.8" stroke="#4a64b0" stroke-width="0.8" />
<line x1="58.3" y1="465.2" x2="62.3" y2="465.2" stroke="#4a64b0" stroke-width="0.8" />
<polygon points="47.8,279 319.6,279 319.6,479.6 47.8,479.6" fill="none" stroke="#4a4a4a" stroke-width="1.25" />
<line x1="182.8" y1="445.2" x2="203.4" y2="445.2" stroke="#5a64a0" stroke-width="0.8" />
<circle cx="192.9" cy="445.2" r="1.8" fill="#fff" stroke="#4a64b0" stroke-width="0.9"/>
<text x="206.5" y="448.2" font-size="13.6" text-anchor="start" fill="#231f20" >Au-IPSC (bottom)</text>
<line x1="182.8" y1="461.4" x2="203.4" y2="461.4" stroke="#4a54a0" stroke-width="0.8" />
<circle cx="192.9" cy="461.4" r="2.1" fill="#2e4a9e"/>
<text x="206.5" y="463.6" font-size="13.6" text-anchor="start" fill="#231f20" >Au-IPSC (top)</text>
<text x="72.5" y="345" font-size="9.6" text-anchor="start" fill="#231f20" >IPSCs (side)</text>
<text x="134" y="345" font-size="9.6" text-anchor="start" fill="#231f20" ><tspan font-style="italic">J</tspan><tspan font-size="6.5" dy="1.5">SC</tspan></text>
<text x="158" y="345" font-size="9.6" text-anchor="start" fill="#231f20" ><tspan font-style="italic">V</tspan><tspan font-size="6.5" dy="1.5">OC</tspan></text>
<text x="189" y="345" font-size="9.6" text-anchor="start" fill="#231f20" >FF</text>
<text x="212" y="345" font-size="9.6" text-anchor="start" fill="#231f20" >PCE</text>
<line x1="71" y1="347.4" x2="237.5" y2="347.4" stroke="#333" stroke-width="0.9" />
<line x1="130" y1="337" x2="130" y2="370" stroke="#333" stroke-width="0.9" />
<text x="74" y="356.3" font-size="9.6" text-anchor="start" fill="#231f20" >Au (bottom)</text>
<text x="74" y="366.5" font-size="9.6" text-anchor="start" fill="#231f20" >Au (top)</text>
<text x="133.5" y="356.3" font-size="9.6" text-anchor="start" fill="#231f20" >9.97</text>
<text x="133.5" y="366.5" font-size="9.6" text-anchor="start" fill="#231f20" >1.61</text>
<text x="160" y="356.3" font-size="9.6" text-anchor="start" fill="#231f20" >0.61</text>
<text x="160" y="366.5" font-size="9.6" text-anchor="start" fill="#231f20" >0.55</text>
<text x="186" y="356.3" font-size="9.6" text-anchor="start" fill="#231f20" >0.47</text>
<text x="186" y="366.5" font-size="9.6" text-anchor="start" fill="#231f20" >0.64</text>
<text x="212" y="356.3" font-size="9.6" text-anchor="start" fill="#231f20" >2.88</text>
<text x="212" y="366.5" font-size="9.6" text-anchor="start" fill="#231f20" >0.57</text>
<line x1="401.6" y1="479" x2="401.6" y2="476" stroke="#4a4a4a" stroke-width="1" />
<line x1="401.6" y1="278.9" x2="401.6" y2="281.9" stroke="#4a4a4a" stroke-width="1" />
<line x1="428.77" y1="479" x2="428.77" y2="476" stroke="#4a4a4a" stroke-width="1" />
<line x1="428.77" y1="278.9" x2="428.77" y2="281.9" stroke="#4a4a4a" stroke-width="1" />
<line x1="455.94" y1="479" x2="455.94" y2="476" stroke="#4a4a4a" stroke-width="1" />
<line x1="455.94" y1="278.9" x2="455.94" y2="281.9" stroke="#4a4a4a" stroke-width="1" />
<line x1="483.11" y1="479" x2="483.11" y2="476" stroke="#4a4a4a" stroke-width="1" />
<line x1="483.11" y1="278.9" x2="483.11" y2="281.9" stroke="#4a4a4a" stroke-width="1" />
<line x1="510.28" y1="479" x2="510.28" y2="476" stroke="#4a4a4a" stroke-width="1" />
<line x1="510.28" y1="278.9" x2="510.28" y2="281.9" stroke="#4a4a4a" stroke-width="1" />
<line x1="537.45" y1="479" x2="537.45" y2="476" stroke="#4a4a4a" stroke-width="1" />
<line x1="537.45" y1="278.9" x2="537.45" y2="281.9" stroke="#4a4a4a" stroke-width="1" />
<line x1="564.62" y1="479" x2="564.62" y2="476" stroke="#4a4a4a" stroke-width="1" />
<line x1="564.62" y1="278.9" x2="564.62" y2="281.9" stroke="#4a4a4a" stroke-width="1" />
<line x1="591.79" y1="479" x2="591.79" y2="476" stroke="#4a4a4a" stroke-width="1" />
<line x1="591.79" y1="278.9" x2="591.79" y2="281.9" stroke="#4a4a4a" stroke-width="1" />
<line x1="618.96" y1="479" x2="618.96" y2="476" stroke="#4a4a4a" stroke-width="1" />
<line x1="618.96" y1="278.9" x2="618.96" y2="281.9" stroke="#4a4a4a" stroke-width="1" />
<line x1="646.13" y1="479" x2="646.13" y2="476" stroke="#4a4a4a" stroke-width="1" />
<line x1="646.13" y1="278.9" x2="646.13" y2="281.9" stroke="#4a4a4a" stroke-width="1" />
<line x1="673.3" y1="479" x2="673.3" y2="476" stroke="#4a4a4a" stroke-width="1" />
<line x1="673.3" y1="278.9" x2="673.3" y2="281.9" stroke="#4a4a4a" stroke-width="1" />
<line x1="401.6" y1="479" x2="404.6" y2="479" stroke="#4a4a4a" stroke-width="1" />
<line x1="673.3" y1="479" x2="670.3" y2="479" stroke="#4a4a4a" stroke-width="1" />
<line x1="401.6" y1="464.71" x2="403.2" y2="464.71" stroke="#4a4a4a" stroke-width="1" />
<line x1="673.3" y1="464.71" x2="671.7" y2="464.71" stroke="#4a4a4a" stroke-width="1" />
<line x1="401.6" y1="450.41" x2="404.6" y2="450.41" stroke="#4a4a4a" stroke-width="1" />
<line x1="673.3" y1="450.41" x2="670.3" y2="450.41" stroke="#4a4a4a" stroke-width="1" />
<line x1="401.6" y1="436.12" x2="403.2" y2="436.12" stroke="#4a4a4a" stroke-width="1" />
<line x1="673.3" y1="436.12" x2="671.7" y2="436.12" stroke="#4a4a4a" stroke-width="1" />
<line x1="401.6" y1="421.83" x2="404.6" y2="421.83" stroke="#4a4a4a" stroke-width="1" />
<line x1="673.3" y1="421.83" x2="670.3" y2="421.83" stroke="#4a4a4a" stroke-width="1" />
<line x1="401.6" y1="407.54" x2="403.2" y2="407.54" stroke="#4a4a4a" stroke-width="1" />
<line x1="673.3" y1="407.54" x2="671.7" y2="407.54" stroke="#4a4a4a" stroke-width="1" />
<line x1="401.6" y1="393.24" x2="404.6" y2="393.24" stroke="#4a4a4a" stroke-width="1" />
<line x1="673.3" y1="393.24" x2="670.3" y2="393.24" stroke="#4a4a4a" stroke-width="1" />
<line x1="401.6" y1="378.95" x2="403.2" y2="378.95" stroke="#4a4a4a" stroke-width="1" />
<line x1="673.3" y1="378.95" x2="671.7" y2="378.95" stroke="#4a4a4a" stroke-width="1" />
<line x1="401.6" y1="364.66" x2="404.6" y2="364.66" stroke="#4a4a4a" stroke-width="1" />
<line x1="673.3" y1="364.66" x2="670.3" y2="364.66" stroke="#4a4a4a" stroke-width="1" />
<line x1="401.6" y1="350.36" x2="403.2" y2="350.36" stroke="#4a4a4a" stroke-width="1" />
<line x1="673.3" y1="350.36" x2="671.7" y2="350.36" stroke="#4a4a4a" stroke-width="1" />
<line x1="401.6" y1="336.07" x2="404.6" y2="336.07" stroke="#4a4a4a" stroke-width="1" />
<line x1="673.3" y1="336.07" x2="670.3" y2="336.07" stroke="#4a4a4a" stroke-width="1" />
<line x1="401.6" y1="321.78" x2="403.2" y2="321.78" stroke="#4a4a4a" stroke-width="1" />
<line x1="673.3" y1="321.78" x2="671.7" y2="321.78" stroke="#4a4a4a" stroke-width="1" />
<line x1="401.6" y1="307.49" x2="404.6" y2="307.49" stroke="#4a4a4a" stroke-width="1" />
<line x1="673.3" y1="307.49" x2="670.3" y2="307.49" stroke="#4a4a4a" stroke-width="1" />
<line x1="401.6" y1="293.19" x2="403.2" y2="293.19" stroke="#4a4a4a" stroke-width="1" />
<line x1="673.3" y1="293.19" x2="671.7" y2="293.19" stroke="#4a4a4a" stroke-width="1" />
<line x1="401.6" y1="278.9" x2="404.6" y2="278.9" stroke="#4a4a4a" stroke-width="1" />
<line x1="673.3" y1="278.9" x2="670.3" y2="278.9" stroke="#4a4a4a" stroke-width="1" />
<text x="401.6" y="497.8" font-size="13.5" text-anchor="middle" fill="#231f20" >300</text>
<text x="455.94" y="497.8" font-size="13.5" text-anchor="middle" fill="#231f20" >400</text>
<text x="510.28" y="497.8" font-size="13.5" text-anchor="middle" fill="#231f20" >500</text>
<text x="564.62" y="497.8" font-size="13.5" text-anchor="middle" fill="#231f20" >600</text>
<text x="618.96" y="497.8" font-size="13.5" text-anchor="middle" fill="#231f20" >700</text>
<text x="673.3" y="497.8" font-size="13.5" text-anchor="middle" fill="#231f20" >800</text>
<text x="393.8" y="484.4" font-size="13.5" text-anchor="end" fill="#231f20" >0</text>
<text x="393.8" y="455.81" font-size="13.5" text-anchor="end" fill="#231f20" >10</text>
<text x="393.8" y="427.23" font-size="13.5" text-anchor="end" fill="#231f20" >20</text>
<text x="393.8" y="398.64" font-size="13.5" text-anchor="end" fill="#231f20" >30</text>
<text x="393.8" y="370.06" font-size="13.5" text-anchor="end" fill="#231f20" >40</text>
<text x="393.8" y="341.47" font-size="13.5" text-anchor="end" fill="#231f20" >50</text>
<text x="393.8" y="312.89" font-size="13.5" text-anchor="end" fill="#231f20" >60</text>
<text x="393.8" y="284.3" font-size="13.5" text-anchor="end" fill="#231f20" >70</text>
<text x="535" y="513" font-size="13.8" text-anchor="middle" fill="#231f20" >Wavelegth (nm)</text>
<text x="0" y="0" font-size="13.8" text-anchor="middle" fill="#231f20" transform="translate(365.8,378) rotate(-90)" >IPCE (%)</text>
<polyline points="401.6,464.71 407.03,442.7 412.47,410.97 417.9,383.81 423.34,369.23 428.77,367.23 434.2,366.09 439.64,363.8 445.07,366.09 450.51,365.51 455.94,364.66 461.37,361.23 466.81,357.51 472.24,350.36 477.68,342.36 483.11,334.64 488.54,326.92 493.98,320.35 499.41,316.06 504.85,313.49 510.28,311.2 515.71,309.49 521.15,310.92 526.58,313.2 532.02,316.06 537.45,319.78 542.88,327.5 548.32,338.36 553.75,348.08 559.19,352.65 564.62,358.37 570.05,370.95 575.49,393.53 580.92,420.4 586.36,443.84 591.79,459.85 597.22,467.85 602.66,471.28 608.09,473 613.53,473.43 618.96,473 624.39,474.43 629.83,474.43 635.26,477.43 640.7,477.43 646.13,477.86 651.56,477.86 657,477.86 662.43,478.14 667.87,478.14 673.3,478.14" fill="none" stroke="#4a64b0" stroke-width="0.9" />
<polyline points="401.6,474.71 407.03,477 412.47,475.28 417.9,475.28 423.34,474.43 428.77,473.85 434.2,473.28 439.64,473 445.07,472.71 450.51,472.14 455.94,471.85 461.37,471 466.81,470.42 472.24,469.28 477.68,468.14 483.11,466.71 488.54,464.99 493.98,463.56 499.41,462.42 504.85,461.85 510.28,461.56 515.71,462.13 521.15,463.56 526.58,464.99 532.02,466.42 537.45,467.99 542.88,469.57 548.32,470.71 553.75,471.85 559.19,473.28 564.62,474.43 570.05,476.14 575.49,477.86 580.92,478.43 586.36,478.57 591.79,478.57 597.22,478.57 602.66,478.57 608.09,478.57 613.53,478.57 618.96,478.43 624.39,478.14 629.83,477.86 635.26,478.43 640.7,478.57 646.13,478.57 651.56,478.57 657,478.57 662.43,478.57 667.87,478.57 673.3,478.57" fill="none" stroke="#2e4a9e" stroke-width="0.9" />
<circle cx="401.6" cy="474.71" r="2.0" fill="#2e4a9e"/>
<circle cx="407.03" cy="477" r="2.0" fill="#2e4a9e"/>
<circle cx="412.47" cy="475.28" r="2.0" fill="#2e4a9e"/>
<circle cx="417.9" cy="475.28" r="2.0" fill="#2e4a9e"/>
<circle cx="423.34" cy="474.43" r="2.0" fill="#2e4a9e"/>
<circle cx="428.77" cy="473.85" r="2.0" fill="#2e4a9e"/>
<circle cx="434.2" cy="473.28" r="2.0" fill="#2e4a9e"/>
<circle cx="439.64" cy="473" r="2.0" fill="#2e4a9e"/>
<circle cx="445.07" cy="472.71" r="2.0" fill="#2e4a9e"/>
<circle cx="450.51" cy="472.14" r="2.0" fill="#2e4a9e"/>
<circle cx="455.94" cy="471.85" r="2.0" fill="#2e4a9e"/>
<circle cx="461.37" cy="471" r="2.0" fill="#2e4a9e"/>
<circle cx="466.81" cy="470.42" r="2.0" fill="#2e4a9e"/>
<circle cx="472.24" cy="469.28" r="2.0" fill="#2e4a9e"/>
<circle cx="477.68" cy="468.14" r="2.0" fill="#2e4a9e"/>
<circle cx="483.11" cy="466.71" r="2.0" fill="#2e4a9e"/>
<circle cx="488.54" cy="464.99" r="2.0" fill="#2e4a9e"/>
<circle cx="493.98" cy="463.56" r="2.0" fill="#2e4a9e"/>
<circle cx="499.41" cy="462.42" r="2.0" fill="#2e4a9e"/>
<circle cx="504.85" cy="461.85" r="2.0" fill="#2e4a9e"/>
<circle cx="510.28" cy="461.56" r="2.0" fill="#2e4a9e"/>
<circle cx="515.71" cy="462.13" r="2.0" fill="#2e4a9e"/>
<circle cx="521.15" cy="463.56" r="2.0" fill="#2e4a9e"/>
<circle cx="526.58" cy="464.99" r="2.0" fill="#2e4a9e"/>
<circle cx="532.02" cy="466.42" r="2.0" fill="#2e4a9e"/>
<circle cx="537.45" cy="467.99" r="2.0" fill="#2e4a9e"/>
<circle cx="542.88" cy="469.57" r="2.0" fill="#2e4a9e"/>
<circle cx="548.32" cy="470.71" r="2.0" fill="#2e4a9e"/>
<circle cx="553.75" cy="471.85" r="2.0" fill="#2e4a9e"/>
<circle cx="559.19" cy="473.28" r="2.0" fill="#2e4a9e"/>
<circle cx="564.62" cy="474.43" r="2.0" fill="#2e4a9e"/>
<circle cx="570.05" cy="476.14" r="2.0" fill="#2e4a9e"/>
<circle cx="575.49" cy="477.86" r="2.0" fill="#2e4a9e"/>
<circle cx="580.92" cy="478.43" r="2.0" fill="#2e4a9e"/>
<circle cx="586.36" cy="478.57" r="2.0" fill="#2e4a9e"/>
<circle cx="591.79" cy="478.57" r="2.0" fill="#2e4a9e"/>
<circle cx="597.22" cy="478.57" r="2.0" fill="#2e4a9e"/>
<circle cx="602.66" cy="478.57" r="2.0" fill="#2e4a9e"/>
<circle cx="608.09" cy="478.57" r="2.0" fill="#2e4a9e"/>
<circle cx="613.53" cy="478.57" r="2.0" fill="#2e4a9e"/>
<circle cx="618.96" cy="478.43" r="2.0" fill="#2e4a9e"/>
<circle cx="624.39" cy="478.14" r="2.0" fill="#2e4a9e"/>
<circle cx="629.83" cy="477.86" r="2.0" fill="#2e4a9e"/>
<circle cx="635.26" cy="478.43" r="2.0" fill="#2e4a9e"/>
<circle cx="640.7" cy="478.57" r="2.0" fill="#2e4a9e"/>
<circle cx="646.13" cy="478.57" r="2.0" fill="#2e4a9e"/>
<circle cx="651.56" cy="478.57" r="2.0" fill="#2e4a9e"/>
<circle cx="657" cy="478.57" r="2.0" fill="#2e4a9e"/>
<circle cx="662.43" cy="478.57" r="2.0" fill="#2e4a9e"/>
<circle cx="667.87" cy="478.57" r="2.0" fill="#2e4a9e"/>
<circle cx="673.3" cy="478.57" r="2.0" fill="#2e4a9e"/>
<circle cx="401.6" cy="464.71" r="2.1" fill="#fff" stroke="#4a64b0" stroke-width="0.9"/>
<circle cx="407.03" cy="442.7" r="2.1" fill="#fff" stroke="#4a64b0" stroke-width="0.9"/>
<circle cx="412.47" cy="410.97" r="2.1" fill="#fff" stroke="#4a64b0" stroke-width="0.9"/>
<circle cx="417.9" cy="383.81" r="2.1" fill="#fff" stroke="#4a64b0" stroke-width="0.9"/>
<circle cx="423.34" cy="369.23" r="2.1" fill="#fff" stroke="#4a64b0" stroke-width="0.9"/>
<circle cx="428.77" cy="367.23" r="2.1" fill="#fff" stroke="#4a64b0" stroke-width="0.9"/>
<circle cx="434.2" cy="366.09" r="2.1" fill="#fff" stroke="#4a64b0" stroke-width="0.9"/>
<circle cx="439.64" cy="363.8" r="2.1" fill="#fff" stroke="#4a64b0" stroke-width="0.9"/>
<circle cx="445.07" cy="366.09" r="2.1" fill="#fff" stroke="#4a64b0" stroke-width="0.9"/>
<circle cx="450.51" cy="365.51" r="2.1" fill="#fff" stroke="#4a64b0" stroke-width="0.9"/>
<circle cx="455.94" cy="364.66" r="2.1" fill="#fff" stroke="#4a64b0" stroke-width="0.9"/>
<circle cx="461.37" cy="361.23" r="2.1" fill="#fff" stroke="#4a64b0" stroke-width="0.9"/>
<circle cx="466.81" cy="357.51" r="2.1" fill="#fff" stroke="#4a64b0" stroke-width="0.9"/>
<circle cx="472.24" cy="350.36" r="2.1" fill="#fff" stroke="#4a64b0" stroke-width="0.9"/>
<circle cx="477.68" cy="342.36" r="2.1" fill="#fff" stroke="#4a64b0" stroke-width="0.9"/>
<circle cx="483.11" cy="334.64" r="2.1" fill="#fff" stroke="#4a64b0" stroke-width="0.9"/>
<circle cx="488.54" cy="326.92" r="2.1" fill="#fff" stroke="#4a64b0" stroke-width="0.9"/>
<circle cx="493.98" cy="320.35" r="2.1" fill="#fff" stroke="#4a64b0" stroke-width="0.9"/>
<circle cx="499.41" cy="316.06" r="2.1" fill="#fff" stroke="#4a64b0" stroke-width="0.9"/>
<circle cx="504.85" cy="313.49" r="2.1" fill="#fff" stroke="#4a64b0" stroke-width="0.9"/>
<circle cx="510.28" cy="311.2" r="2.1" fill="#fff" stroke="#4a64b0" stroke-width="0.9"/>
<circle cx="515.71" cy="309.49" r="2.1" fill="#fff" stroke="#4a64b0" stroke-width="0.9"/>
<circle cx="521.15" cy="310.92" r="2.1" fill="#fff" stroke="#4a64b0" stroke-width="0.9"/>
<circle cx="526.58" cy="313.2" r="2.1" fill="#fff" stroke="#4a64b0" stroke-width="0.9"/>
<circle cx="532.02" cy="316.06" r="2.1" fill="#fff" stroke="#4a64b0" stroke-width="0.9"/>
<circle cx="537.45" cy="319.78" r="2.1" fill="#fff" stroke="#4a64b0" stroke-width="0.9"/>
<circle cx="542.88" cy="327.5" r="2.1" fill="#fff" stroke="#4a64b0" stroke-width="0.9"/>
<circle cx="548.32" cy="338.36" r="2.1" fill="#fff" stroke="#4a64b0" stroke-width="0.9"/>
<circle cx="553.75" cy="348.08" r="2.1" fill="#fff" stroke="#4a64b0" stroke-width="0.9"/>
<circle cx="559.19" cy="352.65" r="2.1" fill="#fff" stroke="#4a64b0" stroke-width="0.9"/>
<circle cx="564.62" cy="358.37" r="2.1" fill="#fff" stroke="#4a64b0" stroke-width="0.9"/>
<circle cx="570.05" cy="370.95" r="2.1" fill="#fff" stroke="#4a64b0" stroke-width="0.9"/>
<circle cx="575.49" cy="393.53" r="2.1" fill="#fff" stroke="#4a64b0" stroke-width="0.9"/>
<circle cx="580.92" cy="420.4" r="2.1" fill="#fff" stroke="#4a64b0" stroke-width="0.9"/>
<circle cx="586.36" cy="443.84" r="2.1" fill="#fff" stroke="#4a64b0" stroke-width="0.9"/>
<circle cx="591.79" cy="459.85" r="2.1" fill="#fff" stroke="#4a64b0" stroke-width="0.9"/>
<circle cx="597.22" cy="467.85" r="2.1" fill="#fff" stroke="#4a64b0" stroke-width="0.9"/>
<circle cx="602.66" cy="471.28" r="2.1" fill="#fff" stroke="#4a64b0" stroke-width="0.9"/>
<circle cx="608.09" cy="473" r="2.1" fill="#fff" stroke="#4a64b0" stroke-width="0.9"/>
<circle cx="613.53" cy="473.43" r="2.1" fill="#fff" stroke="#4a64b0" stroke-width="0.9"/>
<circle cx="618.96" cy="473" r="2.1" fill="#fff" stroke="#4a64b0" stroke-width="0.9"/>
<circle cx="624.39" cy="474.43" r="2.1" fill="#fff" stroke="#4a64b0" stroke-width="0.9"/>
<circle cx="629.83" cy="474.43" r="2.1" fill="#fff" stroke="#4a64b0" stroke-width="0.9"/>
<circle cx="635.26" cy="477.43" r="2.1" fill="#fff" stroke="#4a64b0" stroke-width="0.9"/>
<circle cx="640.7" cy="477.43" r="2.1" fill="#fff" stroke="#4a64b0" stroke-width="0.9"/>
<circle cx="646.13" cy="477.86" r="2.1" fill="#fff" stroke="#4a64b0" stroke-width="0.9"/>
<circle cx="651.56" cy="477.86" r="2.1" fill="#fff" stroke="#4a64b0" stroke-width="0.9"/>
<circle cx="657" cy="477.86" r="2.1" fill="#fff" stroke="#4a64b0" stroke-width="0.9"/>
<circle cx="662.43" cy="478.14" r="2.1" fill="#fff" stroke="#4a64b0" stroke-width="0.9"/>
<circle cx="667.87" cy="478.14" r="2.1" fill="#fff" stroke="#4a64b0" stroke-width="0.9"/>
<circle cx="673.3" cy="478.14" r="2.1" fill="#fff" stroke="#4a64b0" stroke-width="0.9"/>
<polygon points="401.6,278.9 673.3,278.9 673.3,479 401.6,479" fill="none" stroke="#4a4a4a" stroke-width="1.25" />
<line x1="537.7" y1="293.4" x2="557.4" y2="293.4" stroke="#5a64a0" stroke-width="0.8" />
<circle cx="547.5" cy="293.4" r="1.8" fill="#fff" stroke="#4a64b0" stroke-width="0.9"/>
<text x="561" y="297" font-size="13.6" text-anchor="start" fill="#231f20" >Au-IPSC (bottom)</text>
<line x1="537.7" y1="309.4" x2="557.4" y2="309.4" stroke="#4a54a0" stroke-width="0.8" />
<circle cx="547.5" cy="309.4" r="2.0" fill="#2e4a9e"/>
<text x="561" y="312.5" font-size="13.6" text-anchor="start" fill="#231f20" >Au-IPSC (top)</text>
</svg></body></html>
